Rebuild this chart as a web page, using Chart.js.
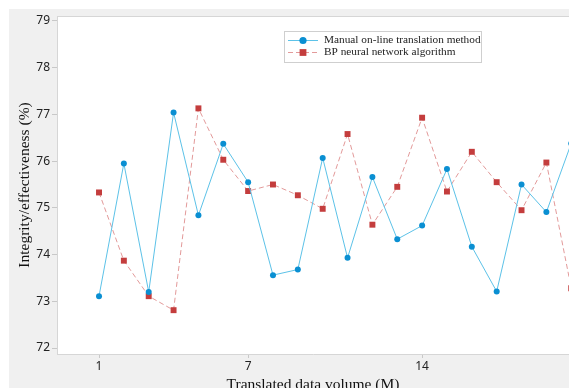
<!DOCTYPE html>
<html>
<head>
<meta charset="utf-8">
<script src="https://cdn.jsdelivr.net/npm/chart.js@4.4.1/dist/chart.umd.min.js"></script>
<style>
  html, body { margin: 0; padding: 0; background: #ffffff; }
  canvas { display: block; }
</style>
</head>
<body>
<canvas id="c" width="569" height="388"></canvas>
<script>
// ---- data ----
const dataVolume = [1, 2, 3, 4, 5, 6, 7, 8, 9, 10, 11, 12, 13, 14, 15, 16, 17, 18, 19, 20];
const manualMethod = [73.11, 75.95, 73.20, 77.04, 74.84, 76.37, 75.55, 73.56, 73.68, 76.07,
                      73.93, 75.66, 74.33, 74.62, 75.83, 74.17, 73.21, 75.50, 74.91, 76.38];
const bpNetwork = [75.33, 73.87, 73.11, 72.81, 77.13, 76.03, 75.36, 75.50, 75.27, 74.98,
                   76.58, 74.64, 75.45, 76.93, 75.35, 76.20, 75.55, 74.95, 75.97, 73.28];
const xTickValues = [1, 7, 14];
const yTickValues = [72, 73, 74, 75, 76, 77, 78, 79];
const seriesNames = ['Manual on-line translation method', 'BP neural network algorithm'];
const xTitle = 'Translated data volume (M)';
const yTitle = 'Integrity/effectiveness (%)';

const SERIF = '"Liberation Serif", "Times New Roman", serif';
const SANS = '"Noto Sans", "Liberation Sans", sans-serif';

const backgroundPlugin = {
  id: 'bg',
  beforeDraw(chart) {
    const { ctx, chartArea: a } = chart;
    ctx.save();
    ctx.fillStyle = '#ffffff';
    ctx.fillRect(0, 0, chart.width, chart.height);
    ctx.fillStyle = '#f0f0f0';
    ctx.fillRect(9, 9, chart.width - 9, chart.height - 9);
    ctx.fillStyle = '#ffffff';
    ctx.fillRect(a.left, a.top, a.right - a.left, a.bottom - a.top);
    ctx.strokeStyle = '#d6d6d6';
    ctx.lineWidth = 1;
    ctx.beginPath();
    ctx.moveTo(a.left, a.top + 0.5);
    ctx.lineTo(a.right, a.top + 0.5);
    ctx.stroke();
    ctx.restore();
  }
};

const legendPlugin = {
  id: 'innerLegend',
  afterDraw(chart) {
    const { ctx } = chart;
    const box = { x: 284, y: 31, w: 198, h: 32 };
    ctx.save();
    ctx.fillStyle = '#ffffff';
    ctx.fillRect(box.x, box.y, box.w, box.h);
    ctx.strokeStyle = '#cfcfcf';
    ctx.lineWidth = 1;
    ctx.strokeRect(box.x + 0.5, box.y + 0.5, box.w - 1, box.h - 1);
    chart.data.datasets.forEach((ds, i) => {
      const y = box.y + 9.5 + i * 12;
      ctx.strokeStyle = ds.borderColor;
      ctx.lineWidth = 1;
      ctx.setLineDash(ds.borderDash || []);
      ctx.beginPath();
      ctx.moveTo(box.x + 4, y);
      ctx.lineTo(box.x + 34, y);
      ctx.stroke();
      ctx.setLineDash([]);
      ctx.fillStyle = ds.pointBackgroundColor;
      ctx.strokeStyle = ds.pointBorderColor;
      Chart.helpers.drawPoint(ctx, {
        pointStyle: ds.pointStyle, radius: ds.pointRadius + 0.6, rotation: 0, borderWidth: 0
      }, box.x + 19, y);
      ctx.fillStyle = '#222222';
      ctx.font = '11.3px ' + SERIF;
      ctx.textBaseline = 'middle';
      ctx.textAlign = 'left';
      ctx.fillText(ds.label, box.x + 40, y);
    });
    ctx.restore();
  }
};

new Chart(document.getElementById('c'), {
  type: 'line',
  data: {
    labels: dataVolume,
    datasets: [
      {
        label: seriesNames[0],
        data: dataVolume.map((x, i) => ({ x: x, y: manualMethod[i] })),
        borderColor: '#5cc2e8',
        borderWidth: 1,
        pointStyle: 'circle',
        pointRadius: 3,
        pointBackgroundColor: '#0a8fd2',
        pointBorderColor: '#0a8fd2',
        pointBorderWidth: 0,
        tension: 0,
        fill: false,
        clip: 0
      },
      {
        label: seriesNames[1],
        data: dataVolume.map((x, i) => ({ x: x, y: bpNetwork[i] })),
        borderColor: '#e39a9a',
        borderWidth: 1,
        borderDash: [5, 3],
        pointStyle: 'rect',
        pointRadius: 4.2,
        pointBackgroundColor: '#c43d3d',
        pointBorderColor: '#c43d3d',
        pointBorderWidth: 0,
        tension: 0,
        fill: false,
        clip: 0
      }
    ]
  },
  options: {
    responsive: false,
    animation: false,
    devicePixelRatio: 1,
    layout: { autoPadding: false, padding: { top: 16, left: 0, right: 0, bottom: 0 } },
    plugins: { legend: { display: false }, tooltip: { enabled: false } },
    scales: {
      x: {
        type: 'linear',
        min: -0.69,
        max: 19.91,
        afterBuildTicks(scale) { scale.ticks = xTickValues.map(v => ({ value: v })); },
        afterFit(scale) { scale.height = 34; scale.paddingLeft = 0; scale.paddingRight = 0; },
        grid: { drawOnChartArea: false, drawTicks: true, tickLength: 4, color: '#c8c8c8' },
        border: { color: '#d6d6d6' },
        ticks: { color: '#222222', font: { family: SANS, size: 12 }, padding: 1, maxRotation: 0, autoSkip: false },
        title: {
          display: true, text: xTitle, color: '#111111',
          font: { family: SERIF, size: 15.5 }, padding: { top: 0, bottom: -6 }
        }
      },
      y: {
        min: 71.872,
        max: 79.107,
        afterBuildTicks(scale) { scale.ticks = yTickValues.map(v => ({ value: v })); },
        afterFit(scale) { scale.width = 57; scale.paddingTop = 0; scale.paddingBottom = 0; },
        grid: { drawOnChartArea: false, drawTicks: true, tickLength: 5, color: '#c8c8c8' },
        border: { color: '#d6d6d6' },
        ticks: { color: '#222222', font: { family: SANS, size: 12 }, padding: 2 },
        title: {
          display: true, text: yTitle, color: '#111111',
          font: { family: SERIF, size: 15.5 }, padding: { top: 16, bottom: 0 }
        }
      }
    }
  },
  plugins: [backgroundPlugin, legendPlugin]
});
</script>
</body>
</html>
